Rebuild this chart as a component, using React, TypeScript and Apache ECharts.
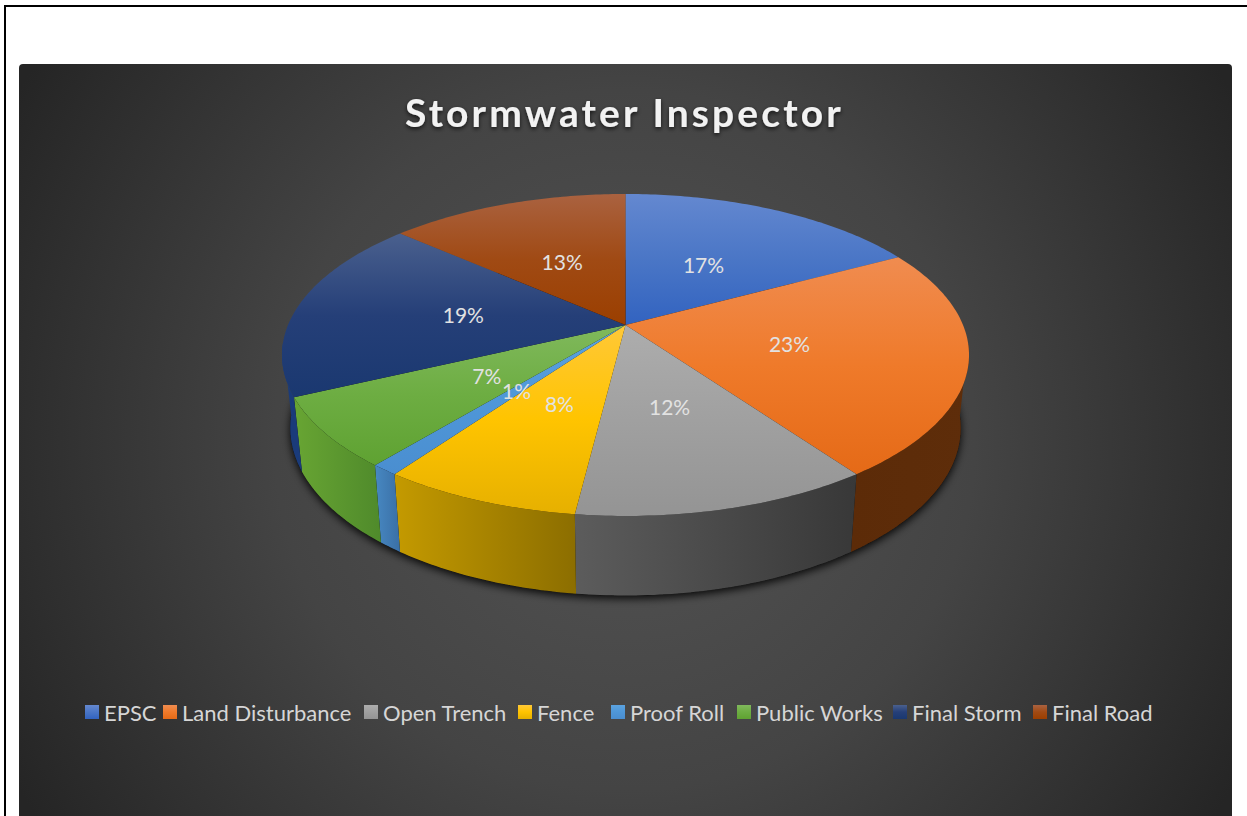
import React, { useEffect, useRef } from "react";
import * as echarts from "echarts";

const categories = ["EPSC", "Land Disturbance", "Open Trench", "Fence", "Proof Roll", "Public Works", "Final Storm", "Final Road"];
const values = [17.1, 23.0, 11.8, 7.9, 1.1, 7.0, 18.52, 13.48];
const topLight = ["#6488d0", "#f08c50", "#adadad", "#ffc838", "#5ba3e0", "#80b95c", "#4a608e", "#aa6240"];
const topMid = ["#4a76c6", "#ef7a2a", "#a0a0a0", "#ffc400", "#4f97d8", "#6dad42", "#253f78", "#a04a14"];
const topBase = ["#3263c0", "#e56a17", "#949494", "#e6b000", "#4a8ed0", "#5fa232", "#1a3870", "#9b3f00"];
const wallFrom = ["#2b4f96", "#5c2b08", "#5c5c5c", "#c49a00", "#4788c2", "#68a533", "#1a3b7a", "#6b3010"];
const wallTo = ["#2b4f96", "#5e2d0a", "#383838", "#8c6e00", "#3a6fa5", "#4f8a2b", "#1a3b7a", "#6b3010"];
const legendLefts = [85, 163, 364, 518, 611, 737, 893, 1033];

const FONT = "Lato";
const TITLE = "Stormwater Inspector";
const CX = 625.5, CY = 325, A = 337.5, B = 155.4, K = 0.1863;
const DROP_X = 0.976, DROP_Y = 1.042, DROP_BASE = 396.5;

const project = (t: number, r = 1) => {
  const u = Math.sin(t) * r, v = -Math.cos(t) * r, w = 1 - K * v;
  return [CX + (A * u) / w, CY + (B * v) / w, v];
};
const lower = (p: number[]) => [CX + DROP_X * (p[0] - CX), DROP_BASE + DROP_Y * (p[1] - CY)];

const total = values.reduce((a, b) => a + b, 0);
const startOf = (i: number) => (values.slice(0, i).reduce((a, b) => a + b, 0) / total) * Math.PI * 2;

const arc = (a: number, b: number) => {
  const n = Math.max(2, Math.ceil((b - a) / 0.015));
  const pts: number[][] = [];
  for (let i = 0; i <= n; i++) pts.push(project(a + ((b - a) * i) / n));
  return pts;
};

const vGrad = (i: number) =>
  new echarts.graphic.LinearGradient(0, 0, 0, 1, [
    { offset: 0, color: topLight[i] },
    { offset: 0.5, color: topMid[i] },
    { offset: 1, color: topBase[i] },
  ]);

const makeSeries = (i: number) => ({
  type: "custom",
  name: categories[i],
  coordinateSystem: "none",
  itemStyle: { color: vGrad(i) },
  data: [values[i]],
  silent: true,
  renderItem: (_p: any, api: any) => {
    const val = api.value(0) as number;
    const a = startOf(i);
    const b = a + (val / total) * Math.PI * 2;
    const rim = arc(a, b);
    const children: any[] = [];
    if (i === 0) {
      const whole = arc(0, Math.PI * 2).map(lower);
      children.push({
        type: "polygon",
        shape: { points: whole },
        style: { fill: "#111", shadowBlur: 9, shadowColor: "rgba(0,0,0,0.9)", shadowOffsetY: 3 },
      });
    }
    const front = rim.filter((p) => p[2] > K * 0.6);
    if (front.length > 1) {
      const pts = [...front.map((p) => [p[0], p[1]]), ...front.slice().reverse().map(lower)];
      children.push({
        type: "polygon",
        shape: { points: pts },
        style: {
          fill: new echarts.graphic.LinearGradient(0, 0, 1, 0, [
            { offset: 0, color: wallFrom[i] },
            { offset: 1, color: wallTo[i] },
          ]),
        },
      });
    }
    children.push({
      type: "polygon",
      shape: { points: [[CX, CY], ...rim.map((p) => [p[0], p[1]])] },
      style: { fill: vGrad(i) },
    });
    const m = project((a + b) / 2, 0.49);
    children.push({
      type: "text",
      z2: 100,
      style: {
        text: `${Math.round(val)}%`,
        x: m[0] - 0.5,
        y: m[1] + 0.5,
        fill: "#e2e2e2",
        font: `21px ${FONT}`,
        textAlign: "center",
        textVerticalAlign: "middle",
      },
    });
    return { type: "group", children };
  },
});

export default function App() {
  const ref = useRef<HTMLDivElement>(null);
  useEffect(() => {
    document.body.style.margin = "0";
    const chart = echarts.init(ref.current!, undefined, { renderer: "svg" });
    chart.setOption({
      animation: false,
      backgroundColor: "#ffffff",
      title: {
        text: TITLE,
        left: 405,
        top: 92,
        padding: 0,
        textStyle: {
          color: "#f2f2f2",
          fontFamily: FONT,
          fontWeight: "bold",
          fontSize: 39,
          textShadowColor: "rgba(0,0,0,0.7)",
          textShadowBlur: 4,
          textShadowOffsetY: 2,
        },
      },
      legend: categories.map((c, i) => ({
        data: [c],
        top: 701,
        left: legendLefts[i],
        padding: 0,
        itemWidth: 14,
        itemHeight: 14,
        icon: "rect",
        selectedMode: false,
        textStyle: { color: "#d6d6d6", fontFamily: FONT, fontSize: 22 },
      })),
      graphic: [
        { type: "line", shape: { x1: 5, y1: 6, x2: 1247, y2: 6 }, style: { stroke: "#000", lineWidth: 2 } },
        { type: "line", shape: { x1: 5, y1: 5, x2: 5, y2: 816 }, style: { stroke: "#000", lineWidth: 2 } },
        {
          type: "rect",
          shape: { x: 19, y: 64, width: 1213, height: 760, r: 4 },
          style: {
            fill: new echarts.graphic.RadialGradient(625, 440, 700, [
              { offset: 0, color: "#545454" },
              { offset: 0.5, color: "#444444" },
              { offset: 1, color: "#252525" },
            ], true),
          },
        },
      ],
      series: categories.map((_, i) => makeSeries(i)),
    });
    ref.current!.querySelectorAll("text").forEach((t) => {
      if (t.textContent === TITLE) t.setAttribute("letter-spacing", "3.1");
    });
    return () => chart.dispose();
  }, []);
  return <div ref={ref} style={{ position: "absolute", left: 0, top: 0, width: 1247, height: 816 }} />;
}
